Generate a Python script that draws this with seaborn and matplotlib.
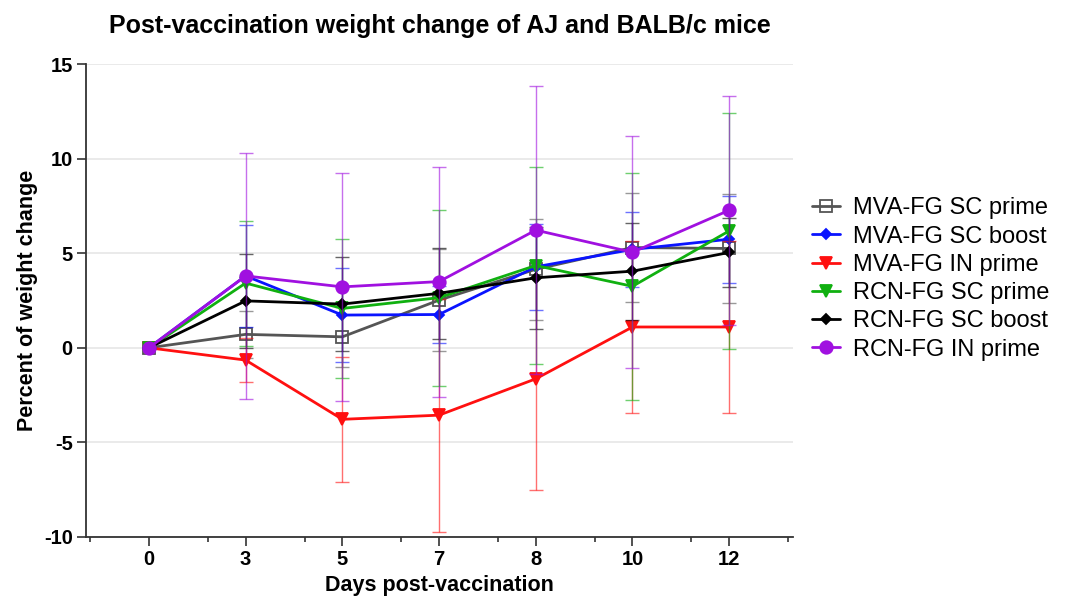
import matplotlib
matplotlib.use("Agg")
import matplotlib.pyplot as plt
import seaborn as sns
import pandas as pd
from matplotlib.ticker import FixedLocator

sns.set_theme(style="white")
plt.rcParams['font.family'] = ['Liberation Sans', 'DejaVu Sans']
plt.rcParams['axes.unicode_minus'] = False
plt.rcParams['text.color'] = 'black'
plt.rcParams['axes.labelcolor'] = 'black'
plt.rcParams['xtick.color'] = 'black'
plt.rcParams['ytick.color'] = 'black'

days = [0, 3, 5, 7, 8, 10, 12]
series_names = ["MVA-FG SC prime", "MVA-FG SC boost", "MVA-FG IN prime",
                "RCN-FG SC prime", "RCN-FG SC boost", "RCN-FG IN prime"]

mva_sc_prime = [0, 0.71, 0.58, 2.52, 4.15, 5.30, 5.25]
mva_sc_prime_err = [0, 1.24, 1.60, 2.70, 2.67, 2.86, 2.90]
mva_sc_boost = [0, 3.80, 1.73, 1.76, 4.28, 5.20, 5.74]
mva_sc_boost_err = [0, 2.70, 2.50, 1.50, 2.27, 1.98, 2.31]
mva_in_prime = [0, -0.65, -3.78, -3.56, -1.64, 1.10, 1.10]
mva_in_prime_err = [0, 1.18, 3.30, 6.16, 5.90, 4.57, 4.57]
rcn_sc_prime = [0, 3.42, 2.08, 2.65, 4.35, 3.25, 6.18]
rcn_sc_prime_err = [0, 3.30, 3.65, 4.66, 5.18, 6.00, 6.25]
rcn_sc_boost = [0, 2.48, 2.31, 2.88, 3.70, 4.05, 5.04]
rcn_sc_boost_err = [0, 2.50, 2.50, 2.40, 2.70, 2.57, 1.81]
rcn_in_prime = [0, 3.80, 3.22, 3.50, 6.22, 5.05, 7.27]
rcn_in_prime_err = [0, 6.50, 6.02, 6.08, 7.60, 6.13, 6.04]

means = [mva_sc_prime, mva_sc_boost, mva_in_prime, rcn_sc_prime, rcn_sc_boost, rcn_in_prime]
errs = [mva_sc_prime_err, mva_sc_boost_err, mva_in_prime_err,
        rcn_sc_prime_err, rcn_sc_boost_err, rcn_in_prime_err]

colors = ["#555555", "#0a14ff", "#ff1010", "#10b010", "#000000", "#a010e0"]
markers = ["s", "D", "v", "v", "D", "o"]
msizes = [8.5, 5, 8, 8, 5, 9]
mfcs = ["none", None, None, None, None, None]

fig = plt.figure(figsize=(10.81, 5.96), dpi=100)
ax = fig.add_axes([0.0796, 0.099, 0.654, 0.7936])

xpos = list(range(len(days)))
for i, name in enumerate(series_names):
    df = pd.DataFrame({"x": xpos, "y": means[i]})
    ax.errorbar(df["x"], df["y"], yerr=errs[i], fmt="none", ecolor=colors[i],
                elinewidth=1.0, capsize=5, capthick=1.0, alpha=0.6, zorder=2 + i)
    mfc = colors[i] if mfcs[i] is None else "none"
    sns.lineplot(data=df, x="x", y="y", ax=ax, color=colors[i], marker=markers[i],
                 markersize=msizes[i], markerfacecolor=mfc, markeredgecolor=colors[i],
                 markeredgewidth=1.3, linewidth=2.0, label=name, zorder=3 + i)

ax.set_xlim(-0.65, 6.66)
ax.set_ylim(-10, 15)
ax.set_xticks(xpos)
ax.set_xticklabels([str(d) for d in days])
ax.xaxis.set_minor_locator(FixedLocator([-0.61] + [k + 0.61 for k in range(7)]))
ax.set_yticks([-10, -5, 0, 5, 10, 15])
ax.grid(axis="y", color="#e6e6e6", linewidth=1.2)
ax.set_axisbelow(True)
for s in ["top", "right"]:
    ax.spines[s].set_visible(False)
for s in ["left", "bottom"]:
    ax.spines[s].set_color("#333333")
    ax.spines[s].set_linewidth(1.3)
ax.tick_params(axis="both", which="major", direction="out", length=6.5, width=1.2,
               color="#333333", labelsize=14.5, bottom=True, left=True, pad=3)
ax.tick_params(axis="x", which="minor", direction="out", length=3.5, width=1.2,
               color="#333333", bottom=True)
for lab in ax.get_xticklabels() + ax.get_yticklabels():
    lab.set_fontweight("bold")

ax.set_xlabel("Days post-vaccination", fontsize=15.5, fontweight="bold", labelpad=4)
ax.set_ylabel("Percent of weight change", fontsize=15.5, fontweight="bold", labelpad=4)
ax.set_title("Post-vaccination weight change of AJ and BALB/c mice", fontsize=18,
             fontweight="bold", pad=22)

ax.legend(loc="upper left", bbox_to_anchor=(1.027, 0.718), frameon=False, fontsize=17,
          handlelength=1.2, handletextpad=0.55, labelspacing=0.265, borderaxespad=0,
          borderpad=0)

fig.savefig("out.png", dpi=100)
